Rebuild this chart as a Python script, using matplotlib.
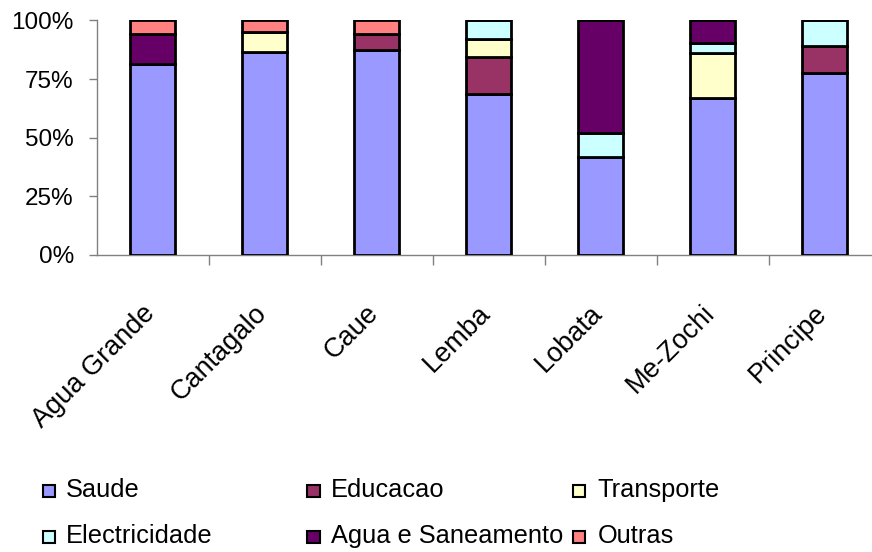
import matplotlib
matplotlib.use("Agg")
import matplotlib.pyplot as plt
from matplotlib import font_manager
from matplotlib.patches import Rectangle
from matplotlib.transforms import ScaledTranslation
import numpy as np

regions = ['Agua Grande', 'Cantagalo', 'Caue', 'Lemba', 'Lobata', 'Me-Zochi', 'Principe']
series_names = ['Saude', 'Educacao', 'Transporte', 'Electricidade', 'Agua e Saneamento', 'Outras']
saude = [81.5, 86.5, 87.3, 68.8, 41.6, 66.8, 77.5]
educacao = [0, 0, 7.0, 15.6, 0, 0, 11.8]
transporte = [0, 8.7, 0, 7.9, 0, 19.5, 0]
electricidade = [0, 0, 0, 7.7, 10.5, 4.0, 10.7]
agua = [12.8, 0, 0, 0, 47.9, 9.7, 0]
outras = [5.7, 4.8, 5.7, 0, 0, 0, 0]
yticks = [0, 25, 50, 75, 100]
ytick_labels = ['0%', '25%', '50%', '75%', '100%']

colors = ['#9999FF', '#993366', '#FFFFCC', '#CCFFFF', '#660066', '#FF8080']
series = [saude, educacao, transporte, electricidade, agua, outras]

names = {f.name for f in font_manager.fontManager.ttflist}
main_font = 'Liberation Sans' if 'Liberation Sans' in names else 'DejaVu Sans'
plt.rcParams['font.family'] = main_font

W, H, DPI = 872, 552, 100
fig = plt.figure(figsize=(W / DPI, H / DPI), dpi=DPI)
fig.patch.set_facecolor('white')

ax_left, ax_right = 96.7, 96.7 + 784
ax_top, ax_bot = 20.5, 255
ax = fig.add_axes([ax_left / W, 1 - ax_bot / H, (ax_right - ax_left) / W, (ax_bot - ax_top) / H])
ax.set_facecolor('white')

x = np.arange(len(regions)) + 0.5
bottom = np.zeros(len(regions))
for vals, col in zip(series, colors):
    v = np.array(vals, dtype=float)
    ax.bar(x, v, width=0.4, bottom=bottom, color=col, edgecolor='black', linewidth=2.0, zorder=3)
    bottom += v

ax.set_xlim(0, len(regions))
ax.set_ylim(0, 100)

for s in ['top', 'right']:
    ax.spines[s].set_visible(False)
for s in ['left', 'bottom']:
    ax.spines[s].set_color('#808080')
    ax.spines[s].set_linewidth(1.0)

ax.set_yticks(yticks)
ax.set_yticklabels(ytick_labels, fontsize=17.5)
ax.tick_params(axis='y', length=6, width=1, color='#808080', pad=10.5)

# category boundary ticks (minor), labels at centres (major)
ax.set_xticks(np.arange(1, len(regions)), minor=True)
ax.set_xticks(x)
ax.set_xticklabels(regions, fontsize=19.5, rotation=45, ha='right', va='baseline',
                   rotation_mode='anchor')
ax.tick_params(axis='x', which='major', length=0, pad=0)
ax.tick_params(axis='x', which='minor', length=7, width=1, color='#808080')
off = ScaledTranslation(3.0 / DPI, -59.0 / DPI, fig.dpi_scale_trans)
for lab in ax.get_xticklabels():
    lab.set_transform(lab.get_transform() + off)

# legend drawn manually, row-wise like the original
sq_x = [42.7, 307.3, 572.7]
txt_x = [66.0, 331.0, 597.5]
row_base = [497, 543]
sq = 12.5
for i, (name, col) in enumerate(zip(series_names, colors)):
    r, c = divmod(i, 3)
    fig.patches.append(Rectangle((sq_x[c] / W, 1 - row_base[r] / H), sq / W, sq / H,
                                 transform=fig.transFigure, facecolor=col,
                                 edgecolor='black', linewidth=1.5))
    fig.text(txt_x[c] / W, 1 - row_base[r] / H, name, fontsize=18.3,
             ha='left', va='baseline')

fig.savefig('out.png', dpi=DPI)
